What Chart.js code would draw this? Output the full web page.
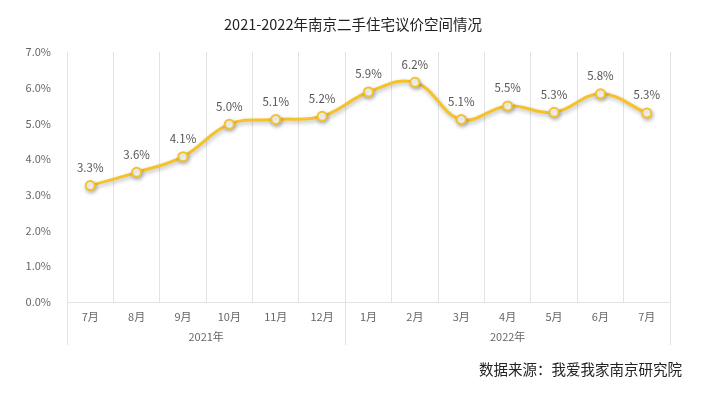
<!DOCTYPE html>
<html><head><meta charset="utf-8">
<script src="https://cdn.jsdelivr.net/npm/chart.js@4"></script>
<style>body{margin:0;background:#fff}#wrap{width:703px;height:393px;position:relative}</style>
</head><body><div id="wrap"><canvas id="c" width="703" height="393"></canvas></div>
<script>
const titleText = '2021-2022年南京二手住宅议价空间情况';
const sourceText = '数据来源：我爱我家南京研究院';
const months = ['7月','8月','9月','10月','11月','12月','1月','2月','3月','4月','5月','6月','7月'];
const years = ['2021年','2022年'];
const yearSpans = [6, 7];
const values = [3.26, 3.63, 4.07, 4.98, 5.11, 5.2, 5.88, 6.15, 5.11, 5.49, 5.31, 5.83, 5.29];
const yMin = 0, yMax = 7, yStep = 1;

const FONT = '"Noto Sans CJK SC","Noto Sans",sans-serif';
const LINE = '#F5C22A';

const shadowPlugin = {
  id: 'shadow',
  beforeDatasetDraw(chart) {
    const ctx = chart.ctx;
    ctx.save();
    ctx.shadowColor = 'rgba(0,0,0,0.28)';
    ctx.shadowBlur = 4;
    ctx.shadowOffsetX = 1;
    ctx.shadowOffsetY = 2;
  },
  afterDatasetDraw(chart) { chart.ctx.restore(); }
};

const decorPlugin = {
  id: 'decor',
  afterDraw(chart) {
    const ctx = chart.ctx;
    const xs = chart.scales.x;
    const meta = chart.getDatasetMeta(0);
    ctx.save();
    // data labels
    ctx.font = '11.5px ' + FONT;
    ctx.fillStyle = '#555';
    ctx.textAlign = 'center';
    ctx.textBaseline = 'middle';
    meta.data.forEach((pt, i) => {
      ctx.fillText(values[i].toFixed(1) + '%', pt.x, pt.y - 18);
    });
    // year groups
    const half = (xs.getPixelForValue(1) - xs.getPixelForValue(0)) / 2;
    let start = 0;
    const bounds = [xs.getPixelForValue(0) - half];
    ctx.strokeStyle = '#e3e3e3';
    ctx.lineWidth = 1;
    years.forEach((y, gi) => {
      const end = start + yearSpans[gi] - 1;
      const l = xs.getPixelForValue(start) - half;
      const r = xs.getPixelForValue(end) + half;
      bounds.push(r);
      ctx.fillStyle = '#666';
      ctx.font = '11px ' + FONT;
      ctx.fillText(y, (l + r) / 2, xs.top + 35);
      start = end + 1;
    });
    bounds.forEach(b => {
      const bx = Math.round(b) + 0.5;
      ctx.beginPath();
      ctx.moveTo(bx, xs.top);
      ctx.lineTo(bx, xs.top + 43);
      ctx.stroke();
    });
    // title
    ctx.fillStyle = '#222';
    ctx.font = '14.5px ' + FONT;
    ctx.fillText(titleText, 353, 24);
    // source
    ctx.textAlign = 'right';
    ctx.fillText(sourceText, 682, 369);
    ctx.restore();
  }
};

new Chart(document.getElementById('c'), {
  type: 'line',
  data: {
    labels: months,
    datasets: [{
      data: values,
      borderColor: LINE,
      borderWidth: 3,
      tension: 0.4,
      pointRadius: 4.5,
      pointHoverRadius: 4.5,
      pointBorderWidth: 2,
      pointBorderColor: LINE,
      pointBackgroundColor: '#fff',
      fill: false,
      clip: false
    }]
  },
  options: {
    responsive: false,
    animation: false,
    events: [],
    layout: { padding: { top: 52, left: 0, right: 33, bottom: 0 } },
    plugins: { legend: { display: false }, title: { display: false }, tooltip: { enabled: false } },
    scales: {
      x: {
        offset: true,
        grid: { offset: true, color: '#e3e3e3', drawTicks: false, lineWidth: 1 },
        border: { display: true, color: '#e3e3e3' },
        ticks: { color: '#666', font: { size: 11, family: FONT }, padding: 8, maxRotation: 0, autoSkip: false },
        afterFit(s) { s.height = 91; }
      },
      y: {
        min: yMin, max: yMax,
        grid: { display: false },
        border: { display: false },
        ticks: {
          stepSize: yStep,
          color: '#666',
          font: { size: 11, family: FONT },
          padding: 8,
          callback: v => v.toFixed(1) + '%'
        },
        afterFit(s) { s.width = 67; }
      }
    }
  },
  plugins: [shadowPlugin, decorPlugin]
});
</script>
</body></html>
